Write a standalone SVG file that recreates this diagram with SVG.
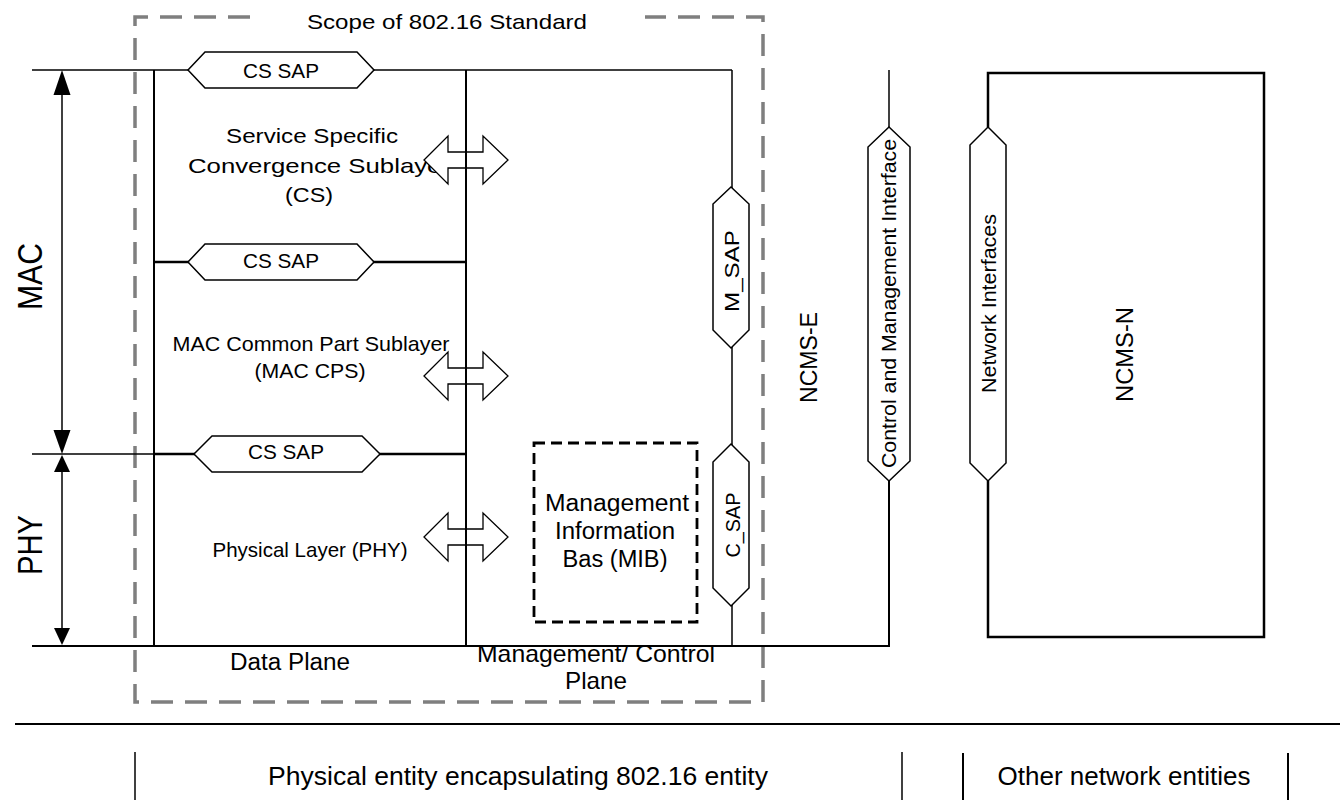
<svg xmlns="http://www.w3.org/2000/svg" width="1340" height="800" viewBox="0 0 1340 800">
<style>
text{font-family:"Liberation Sans",Arial,sans-serif;fill:#000}
.ln{fill:none;stroke:#000;stroke-width:1.5}
.lt{fill:none;stroke:#000;stroke-width:2.5}
.lm{fill:none;stroke:#000;stroke-width:2}
.hex{fill:#fff;stroke:#000;stroke-width:1.5}
.blk{fill:#fff;stroke:#000;stroke-width:1.3}
.scope{fill:none;stroke:#7f7f7f;stroke-width:3.5;stroke-dasharray:22 12}
.mib{fill:none;stroke:#000;stroke-width:2.8;stroke-dasharray:11 6}
.ah{fill:#000;stroke:none}
</style>
<defs>
<polygon id="dblarrow" class="blk" points="-42,0 -18,-24 -18,-8 17,-8 17,-24 42,0 17,24 17,8 -18,8 -18,24"/>
</defs>

<g id="scope">
<path class="scope" d="M250,17 H135 V702 H763 V17 H645"/>
<text x="447" y="29" font-size="21" text-anchor="middle" textLength="280" lengthAdjust="spacingAndGlyphs">Scope of 802.16 Standard</text>
</g>

<g id="layer-labels">
<text x="312" y="143" font-size="21" text-anchor="middle" textLength="172" lengthAdjust="spacingAndGlyphs">Service Specific</text>
<text x="188" y="173" font-size="21" textLength="262" lengthAdjust="spacingAndGlyphs">Convergence Sublayer</text>
<text x="309" y="202" font-size="21" text-anchor="middle" textLength="48" lengthAdjust="spacingAndGlyphs">(CS)</text>
<text x="311" y="351" font-size="21" text-anchor="middle" textLength="277" lengthAdjust="spacingAndGlyphs">MAC Common Part Sublayer</text>
<text x="310" y="378" font-size="21" text-anchor="middle" textLength="111" lengthAdjust="spacingAndGlyphs">(MAC CPS)</text>
<text x="310" y="557" font-size="21" text-anchor="middle" textLength="195" lengthAdjust="spacingAndGlyphs">Physical Layer (PHY)</text>
<text x="290" y="670" font-size="23" text-anchor="middle" textLength="120" lengthAdjust="spacingAndGlyphs">Data Plane</text>
<text x="596" y="662" font-size="24" text-anchor="middle" textLength="238" lengthAdjust="spacingAndGlyphs">Management/ Control</text>
<text x="596" y="689" font-size="24" text-anchor="middle" textLength="62" lengthAdjust="spacingAndGlyphs">Plane</text>
<text transform="translate(817,357.5) rotate(-90)" font-size="23" text-anchor="middle" textLength="91" lengthAdjust="spacingAndGlyphs">NCMS-E</text>
</g>

<g id="mac-dim">
<line class="ln" x1="62" y1="90" x2="62" y2="434"/>
<polygon class="ah" points="62,70 53.5,95 70.5,95"/>
<polygon class="ah" points="62,454 53.5,430 70.5,430"/>
<text transform="translate(42,276.5) rotate(-90)" font-size="35" text-anchor="middle" textLength="67" lengthAdjust="spacingAndGlyphs">MAC</text>
</g>
<g id="phy-dim">
<line class="ln" x1="62" y1="468" x2="62" y2="632"/>
<polygon class="ah" points="62,455 54,472 70,472"/>
<polygon class="ah" points="62,645 54,628 70,628"/>
<text transform="translate(42,545) rotate(-90)" font-size="35" text-anchor="middle" textLength="60" lengthAdjust="spacingAndGlyphs">PHY</text>
</g>

<g id="sap-arrows">
<use href="#dblarrow" x="466" y="160"/>
<use href="#dblarrow" x="466" y="376"/>
<use href="#dblarrow" x="466" y="537"/>
</g>

<g id="connectors">
<line class="ln" x1="32" y1="70" x2="732" y2="70"/>
<line class="ln" x1="732" y1="70" x2="732" y2="646"/>
<line class="lm" x1="154" y1="70" x2="154" y2="646"/>
<line class="lm" x1="466" y1="70" x2="466" y2="646"/>
<line class="lt" x1="154" y1="262" x2="466" y2="262"/>
<line class="ln" x1="32" y1="454" x2="154" y2="454"/>
<line class="lt" x1="154" y1="454" x2="466" y2="454"/>
<path class="lm" d="M32,646 H889 V481"/>
<line class="ln" x1="889" y1="70" x2="889" y2="127"/>
<line class="lm" x1="15" y1="724" x2="1340" y2="724"/>
<line class="ln" x1="135" y1="752" x2="135" y2="800"/>
<line class="ln" x1="902" y1="752" x2="902" y2="800"/>
<line class="lm" x1="963" y1="753" x2="963" y2="800"/>
<line class="lm" x1="1288" y1="753" x2="1288" y2="800"/>
</g>

<g id="cs-sap-1">
<polygon class="hex" points="188,70 205,52 357,52 374,70 357,88 205,88"/>
<text x="281" y="78" font-size="21" text-anchor="middle" textLength="76" lengthAdjust="spacingAndGlyphs">CS SAP</text>
</g>
<g id="cs-sap-2">
<polygon class="hex" points="188,262 205,244 357,244 374,262 357,280 205,280"/>
<text x="281" y="268" font-size="21" text-anchor="middle" textLength="76" lengthAdjust="spacingAndGlyphs">CS SAP</text>
</g>
<g id="cs-sap-3">
<polygon class="hex" points="194,454 212,436 362,436 380,454 362,472 212,472"/>
<text x="286" y="459" font-size="21" text-anchor="middle" textLength="76" lengthAdjust="spacingAndGlyphs">CS SAP</text>
</g>

<g id="m-sap">
<polygon class="hex" points="731,187 749,204 749,330 731,348 713,330 713,204"/>
<text transform="translate(739,271) rotate(-90)" font-size="21" text-anchor="middle" textLength="82" lengthAdjust="spacingAndGlyphs">M_SAP</text>
</g>
<g id="c-sap">
<polygon class="hex" points="731,444 749,462 749,588 731,606 713,588 713,462"/>
<text transform="translate(740,525) rotate(-90)" font-size="20" text-anchor="middle" textLength="65" lengthAdjust="spacingAndGlyphs">C_SAP</text>
</g>

<g id="mib">
<rect class="mib" x="534" y="443" width="163" height="179"/>
<text x="617" y="511" font-size="23" text-anchor="middle" textLength="144" lengthAdjust="spacingAndGlyphs">Management</text>
<text x="615" y="539" font-size="23" text-anchor="middle" textLength="120" lengthAdjust="spacingAndGlyphs">Information</text>
<text x="615" y="567" font-size="23" text-anchor="middle" textLength="105" lengthAdjust="spacingAndGlyphs">Bas (MIB)</text>
</g>

<g id="control-mgmt-interface">
<polygon class="hex" points="889,127 910,147 910,461 889,481 868,461 868,147"/>
<text transform="translate(896,303.5) rotate(-90)" font-size="21" text-anchor="middle" textLength="329" lengthAdjust="spacingAndGlyphs">Control and Management Interface</text>
</g>

<g id="ncms-n">
<path class="lt" d="M988,127 V73 H1264 V637 H988 V481"/>
<text transform="translate(1133,354.5) rotate(-90)" font-size="23" text-anchor="middle" textLength="95" lengthAdjust="spacingAndGlyphs">NCMS-N</text>
</g>
<g id="network-interfaces">
<polygon class="hex" points="988,127 1006,145 1006,463 988,481 970,463 970,145"/>
<text transform="translate(996,303.5) rotate(-90)" font-size="21" text-anchor="middle" textLength="179" lengthAdjust="spacingAndGlyphs">Network Interfaces</text>
</g>

<g id="footer">
<text x="518" y="785" font-size="25" text-anchor="middle" textLength="500" lengthAdjust="spacingAndGlyphs">Physical entity encapsulating 802.16 entity</text>
<text x="1124" y="785" font-size="25" text-anchor="middle" textLength="253" lengthAdjust="spacingAndGlyphs">Other network entities</text>
</g>
</svg>
